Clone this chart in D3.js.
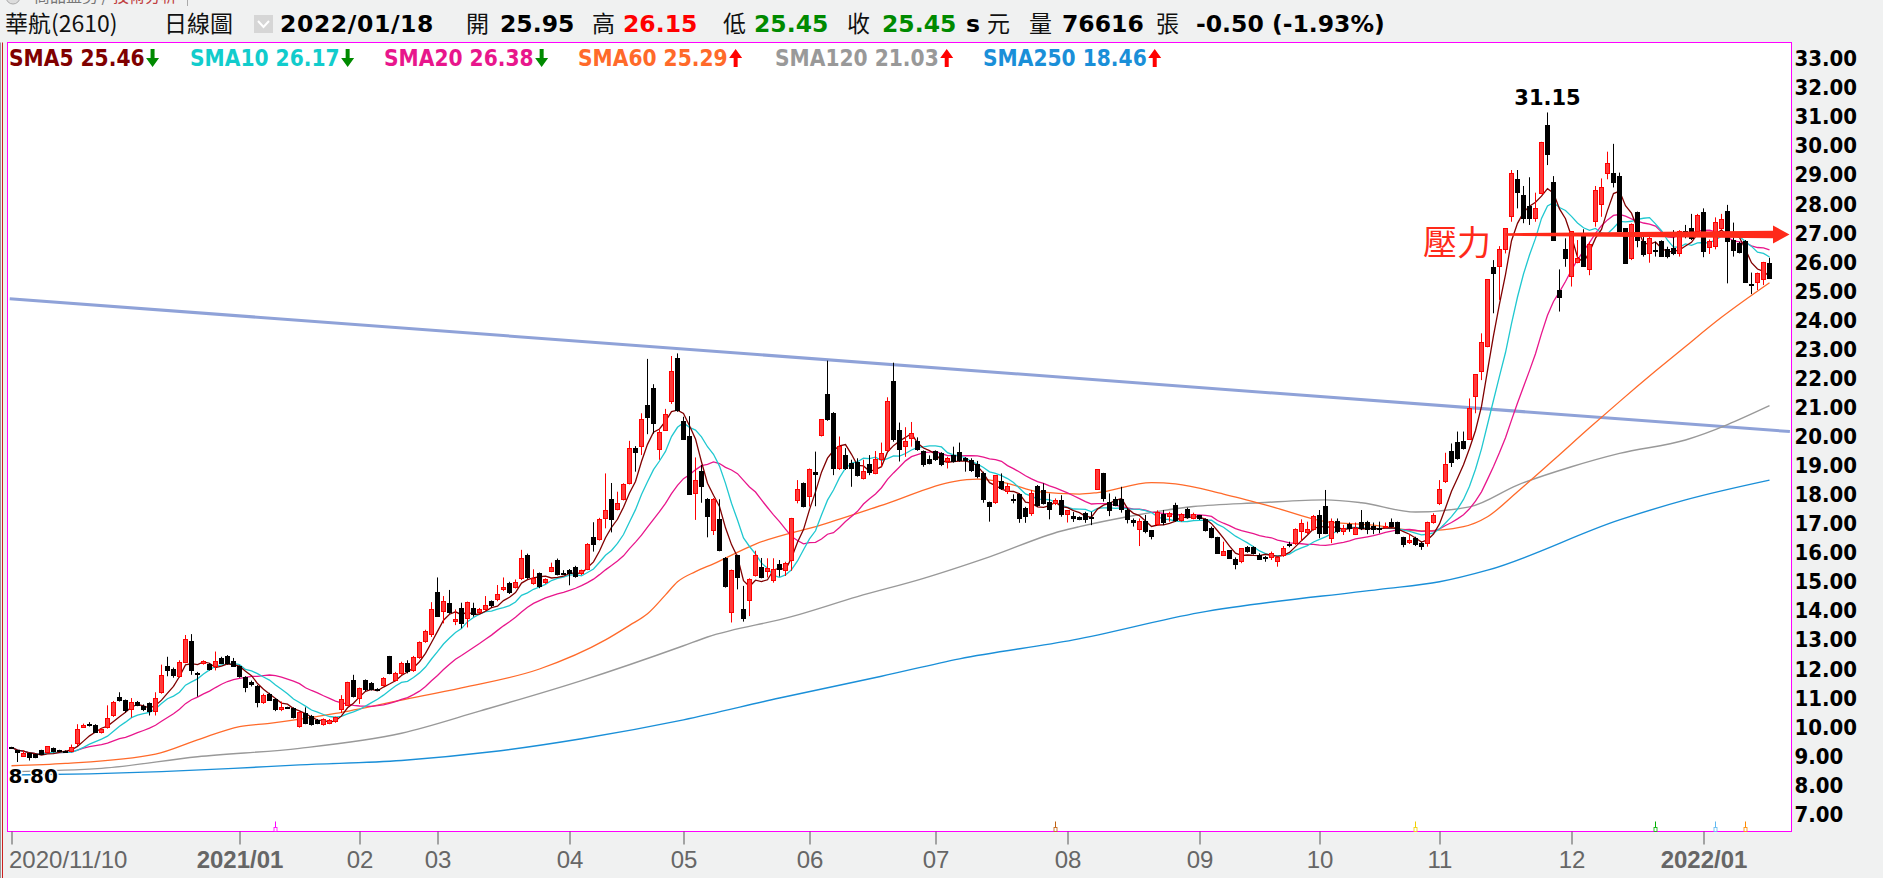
<!DOCTYPE html>
<html>
<head>
<meta charset="utf-8">
<script src="https://cdn.jsdelivr.net/npm/d3@7"></script>
<style>
  html, body { margin: 0; padding: 0; background: #f0f1f1; overflow: hidden; }
  svg { display: block; }
  .num { font-family: 'DejaVu Sans', Verdana, sans-serif; font-weight: bold; }
  .cond { font-family: 'DejaVu Sans Condensed', 'DejaVu Sans', sans-serif; font-stretch: condensed; font-weight: bold; }
  .cjk { font-family: 'Noto Sans CJK TC', 'Noto Sans CJK SC', sans-serif; }
</style>
</head>
<body>
<div id="app"></div>
<script>
// ---- data ----
const opens = [
  9.31, 9.19, 9.00, 9.10, 9.05, 9.20, 9.12, 9.27, 9.18, 9.17,
  9.15, 9.44, 10.00, 10.10, 10.05, 9.80, 10.00, 10.40, 11.02, 10.90,
  10.60, 10.84, 10.72, 10.80, 10.53, 11.20, 12.08, 11.97, 11.75, 12.22,
  12.96, 11.86, 12.20, 12.15, 12.08, 12.35, 12.42, 12.25, 12.10, 11.70,
  11.55, 11.41, 10.84, 11.12, 10.95, 10.60, 10.67, 10.64, 10.02, 10.47,
  10.38, 10.24, 10.10, 10.13, 10.18, 10.59, 10.76, 11.62, 11.00, 11.59,
  11.50, 11.30, 11.42, 12.42, 11.62, 11.85, 12.20, 11.95, 12.40, 12.95,
  13.17, 14.64, 13.97, 14.26, 13.63, 14.09, 13.75, 14.09, 13.94, 14.05,
  14.32, 14.38, 14.72, 14.95, 14.81, 15.12, 15.92, 14.95, 15.27, 14.97,
  15.37, 15.75, 15.30, 15.40, 15.50, 15.27, 15.43, 16.53, 16.46, 17.18,
  17.84, 17.50, 17.84, 18.39, 19.57, 19.67, 21.05, 21.66, 19.56, 20.22,
  21.20, 22.67, 20.53, 19.99, 18.04, 18.81, 17.84, 16.78, 17.15, 15.81,
  13.94, 15.89, 14.05, 14.37, 15.23, 15.50, 15.35, 15.06, 15.59, 15.38,
  15.75, 17.81, 18.39, 17.93, 18.75, 20.05, 21.46, 20.80, 18.90, 19.36,
  19.07, 19.10, 18.56, 19.05, 18.73, 19.20, 19.51, 21.90, 20.22, 19.65,
  19.94, 19.82, 19.48, 19.20, 19.48, 19.42, 19.14, 19.33, 19.44, 19.25,
  19.17, 19.05, 18.71, 17.72, 17.72, 18.45, 18.10, 17.84, 17.99, 17.53,
  17.36, 18.27, 18.14, 17.72, 17.70, 17.80, 17.30, 17.25, 17.20, 17.35,
  17.20, 18.18, 18.73, 17.72, 17.84, 17.84, 17.47, 17.10, 16.81, 17.07,
  16.76, 16.96, 17.30, 17.24, 17.64, 17.12, 17.50, 17.19, 17.27, 17.13,
  16.84, 16.53, 15.92, 16.07, 15.77, 15.69, 16.18, 16.18, 15.92, 15.83,
  15.84, 15.69, 15.92, 16.27, 16.32, 16.72, 16.69, 16.81, 17.27, 17.60,
  16.50, 17.07, 16.72, 16.96, 16.64, 17.03, 17.03, 16.90, 16.84, 16.87,
  17.03, 17.03, 16.53, 16.35, 16.50, 16.33, 16.33, 17.03, 17.68, 18.45,
  19.50, 19.79, 19.82, 19.90, 21.37, 22.23, 23.09, 25.82, 25.84, 26.44,
  27.57, 28.83, 28.28, 27.93, 27.51, 28.37, 30.69, 28.73, 25.04, 26.44,
  25.50, 25.98, 26.88, 25.73, 27.39, 27.97, 29.06, 29.06, 28.96, 27.16,
  26.13, 27.70, 26.70, 26.30, 26.40, 26.70, 26.44, 26.47, 26.28, 27.05,
  27.16, 27.05, 27.70, 26.51, 26.53, 27.16, 27.74, 26.76, 26.65, 26.70,
  25.23, 25.29, 25.41, 25.95
];
const highs = [
  9.32, 9.20, 9.20, 9.12, 9.08, 9.22, 9.35, 9.30, 9.22, 9.20,
  9.40, 10.10, 10.12, 10.17, 10.10, 9.97, 10.75, 10.90, 11.20, 10.95,
  11.00, 10.90, 10.78, 10.85, 11.20, 12.15, 12.42, 12.05, 12.30, 13.17,
  13.20, 11.90, 12.30, 12.20, 12.60, 12.42, 12.48, 12.38, 12.12, 11.75,
  11.60, 11.45, 11.15, 11.18, 11.00, 10.88, 10.70, 10.68, 10.55, 10.68,
  10.42, 10.28, 10.30, 10.28, 10.36, 11.10, 11.56, 11.80, 11.36, 11.64,
  11.55, 11.34, 11.72, 12.45, 11.90, 12.25, 12.30, 12.45, 12.95, 13.35,
  14.30, 15.15, 14.51, 14.72, 14.05, 14.28, 14.32, 14.28, 14.10, 14.51,
  14.36, 14.89, 15.15, 15.00, 15.08, 16.10, 15.97, 15.43, 15.32, 15.12,
  15.66, 15.80, 15.40, 15.44, 15.55, 15.42, 16.33, 17.05, 17.20, 18.73,
  18.40, 18.10, 18.39, 19.85, 19.67, 20.80, 22.67, 21.80, 20.25, 20.95,
  22.77, 22.86, 20.68, 20.70, 19.28, 19.02, 17.88, 17.88, 17.84, 15.85,
  15.42, 15.93, 14.86, 15.12, 16.07, 15.82, 15.81, 15.81, 15.75, 15.69,
  17.20, 18.50, 18.42, 18.90, 19.48, 20.60, 22.61, 20.84, 20.00, 19.60,
  19.20, 19.25, 19.20, 19.36, 19.50, 19.79, 21.35, 22.54, 20.48, 20.32,
  20.50, 19.97, 19.52, 19.35, 19.52, 19.46, 19.30, 19.65, 19.79, 19.29,
  19.25, 19.16, 18.79, 17.76, 18.67, 18.73, 18.39, 18.01, 18.03, 17.58,
  18.16, 18.33, 18.39, 18.04, 17.87, 17.98, 17.47, 17.40, 17.25, 17.41,
  17.41, 18.85, 18.75, 18.04, 17.93, 18.27, 17.53, 17.18, 17.18, 17.30,
  16.78, 17.46, 17.47, 17.41, 17.72, 17.36, 17.55, 17.38, 17.30, 17.18,
  16.90, 16.55, 16.38, 16.09, 15.84, 16.15, 16.23, 16.22, 15.98, 15.89,
  16.04, 15.87, 16.23, 16.38, 16.84, 17.15, 17.07, 17.30, 17.47, 18.16,
  17.18, 17.18, 16.96, 17.04, 17.04, 17.47, 17.10, 17.04, 17.07, 17.04,
  17.18, 17.07, 16.55, 16.64, 16.55, 16.38, 17.07, 17.36, 18.50, 19.44,
  19.76, 20.17, 20.17, 21.31, 22.12, 23.55, 25.41, 26.07, 26.55, 27.16,
  29.17, 29.17, 28.62, 28.92, 28.39, 30.14, 31.15, 28.96, 25.75, 26.82,
  27.05, 26.76, 27.13, 26.70, 28.62, 28.88, 29.80, 30.07, 29.08, 27.16,
  27.33, 27.74, 26.88, 26.94, 26.70, 26.75, 26.53, 27.10, 27.10, 27.28,
  27.66, 27.66, 27.85, 26.78, 27.54, 27.66, 27.97, 27.36, 26.70, 26.76,
  25.64, 25.64, 26.01, 26.15
];
const lows = [
  9.28, 8.80, 8.98, 8.85, 8.93, 9.05, 9.10, 9.13, 9.14, 9.12,
  9.13, 9.35, 9.97, 10.02, 9.80, 9.78, 9.95, 10.35, 10.88, 10.50,
  10.33, 10.72, 10.55, 10.40, 10.40, 11.15, 11.75, 11.70, 11.70, 12.20,
  11.80, 11.05, 12.15, 11.95, 11.95, 12.18, 12.15, 12.08, 11.70, 11.20,
  11.40, 10.68, 10.80, 10.90, 10.55, 10.55, 10.63, 10.30, 9.98, 10.10,
  10.05, 10.10, 10.05, 10.10, 10.15, 10.48, 10.72, 11.02, 10.80, 11.24,
  11.26, 11.26, 11.40, 11.82, 11.58, 11.80, 11.85, 11.90, 12.35, 12.90,
  13.10, 13.80, 13.57, 13.90, 13.51, 13.40, 13.43, 13.80, 13.90, 14.00,
  14.12, 14.33, 14.68, 14.58, 14.77, 15.06, 15.10, 14.90, 14.78, 14.93,
  15.33, 15.22, 15.26, 14.88, 15.14, 15.23, 15.40, 16.04, 16.42, 16.84,
  16.70, 17.46, 17.80, 18.35, 18.79, 19.36, 20.08, 20.10, 19.20, 20.20,
  21.12, 20.85, 19.88, 17.99, 17.13, 17.72, 16.53, 16.61, 16.05, 14.80,
  13.60, 14.74, 13.63, 13.82, 15.18, 15.12, 15.15, 14.97, 15.18, 15.20,
  15.38, 17.70, 17.56, 17.59, 17.60, 20.00, 20.54, 18.67, 18.85, 18.85,
  18.27, 18.62, 18.52, 18.67, 18.70, 18.96, 19.48, 19.82, 19.14, 19.30,
  19.65, 19.51, 18.96, 19.04, 19.16, 18.98, 18.90, 19.10, 19.13, 18.79,
  18.78, 18.56, 17.72, 17.07, 17.68, 18.16, 18.02, 17.70, 17.03, 17.03,
  17.27, 17.58, 17.66, 17.15, 17.64, 17.24, 17.04, 17.06, 17.12, 17.03,
  16.95, 18.16, 17.76, 17.26, 17.60, 17.38, 17.01, 16.90, 16.23, 16.67,
  16.46, 16.92, 16.95, 17.07, 17.07, 17.07, 17.17, 17.15, 17.13, 16.73,
  16.50, 15.96, 15.89, 15.81, 15.43, 15.64, 16.00, 15.94, 15.75, 15.69,
  15.75, 15.52, 15.86, 16.19, 16.27, 16.41, 16.64, 16.76, 16.50, 16.64,
  16.33, 16.67, 16.61, 16.72, 16.61, 16.78, 16.64, 16.64, 16.67, 16.84,
  16.90, 16.64, 16.19, 16.30, 16.23, 16.10, 16.21, 17.00, 17.64, 18.40,
  18.95, 19.20, 19.55, 19.88, 20.80, 21.94, 23.07, 24.24, 24.70, 26.30,
  27.39, 27.85, 27.34, 27.28, 27.39, 28.34, 29.34, 26.74, 24.30, 25.84,
  25.16, 25.96, 25.84, 25.55, 27.22, 27.56, 28.85, 28.57, 27.05, 25.96,
  26.07, 26.51, 26.19, 25.98, 26.19, 26.19, 26.13, 26.24, 26.19, 26.82,
  26.76, 26.93, 26.17, 26.28, 26.44, 27.10, 25.27, 26.19, 26.30, 25.29,
  24.90, 25.04, 25.21, 25.45
];
const closes = [
  9.30, 9.12, 9.10, 8.95, 8.95, 9.07, 9.33, 9.15, 9.17, 9.15,
  9.29, 9.93, 10.05, 10.08, 9.82, 9.93, 10.30, 10.85, 10.90, 10.56,
  10.85, 10.75, 10.60, 10.53, 11.00, 11.76, 11.95, 11.78, 12.22, 13.00,
  11.96, 11.80, 12.25, 11.98, 12.25, 12.20, 12.20, 12.10, 11.74, 11.37,
  11.45, 10.84, 11.10, 10.93, 10.59, 10.68, 10.65, 10.34, 10.52, 10.13,
  10.10, 10.13, 10.27, 10.24, 10.33, 10.96, 11.53, 11.05, 11.33, 11.28,
  11.30, 11.30, 11.68, 11.85, 11.85, 12.20, 11.90, 12.40, 12.90, 13.30,
  14.05, 13.82, 14.32, 13.94, 13.71, 13.55, 14.29, 13.86, 14.05, 14.18,
  14.17, 14.55, 14.81, 14.63, 14.98, 15.81, 15.15, 15.10, 14.83, 15.08,
  15.50, 15.26, 15.29, 15.30, 15.18, 15.38, 16.30, 16.27, 17.16, 17.47,
  17.16, 17.70, 18.35, 19.60, 19.44, 20.60, 20.66, 20.45, 20.14, 20.77,
  22.25, 20.91, 19.91, 18.02, 18.50, 18.27, 17.26, 17.84, 16.09, 14.83,
  15.38, 15.15, 13.74, 15.09, 15.92, 15.15, 15.45, 15.43, 15.41, 15.64,
  17.18, 18.16, 17.59, 18.85, 18.70, 20.57, 20.57, 18.90, 19.67, 18.90,
  18.90, 18.67, 18.79, 18.75, 19.20, 19.40, 21.20, 19.88, 19.54, 19.82,
  20.10, 19.54, 19.02, 19.08, 19.20, 19.02, 19.25, 19.14, 19.17, 19.17,
  18.82, 18.64, 17.84, 17.59, 18.67, 18.22, 18.27, 17.79, 17.18, 17.24,
  18.04, 17.64, 17.70, 17.49, 17.81, 17.30, 17.47, 17.18, 17.15, 17.15,
  17.18, 18.85, 17.87, 17.47, 17.64, 17.49, 17.15, 17.03, 17.07, 16.72,
  16.55, 17.40, 17.04, 17.35, 17.10, 17.30, 17.20, 17.30, 17.19, 16.78,
  16.53, 15.98, 16.03, 15.81, 15.58, 16.15, 16.04, 15.96, 15.77, 15.82,
  15.98, 15.84, 16.15, 16.27, 16.81, 17.01, 16.81, 17.24, 16.67, 16.67,
  17.07, 16.72, 16.84, 16.84, 16.84, 16.84, 16.81, 16.81, 16.84, 16.92,
  16.92, 16.67, 16.27, 16.41, 16.27, 16.23, 17.03, 17.27, 18.16, 19.02,
  19.10, 19.25, 19.60, 20.97, 22.12, 23.23, 25.41, 25.62, 26.44, 27.16,
  29.06, 28.39, 27.51, 27.51, 27.83, 30.11, 29.69, 26.74, 24.79, 26.13,
  27.05, 26.13, 25.84, 26.62, 28.48, 28.57, 29.40, 28.73, 27.05, 25.96,
  27.28, 26.76, 26.25, 26.82, 26.36, 26.19, 26.19, 26.30, 27.05, 27.05,
  26.82, 27.62, 26.36, 26.70, 27.36, 27.47, 26.70, 26.39, 26.33, 25.29,
  25.20, 25.61, 25.98, 25.45
];

// long averages read as sampled points: [candle index, value]
const sma60Pts = [[0, 8.67], [9, 8.75], [24, 9.07], [31, 9.56], [38, 10.02], [43, 10.13], [54, 10.47],
  [65, 10.93], [75, 11.35], [88, 12.0], [99, 13.0], [103, 13.5], [106, 13.9], [109, 14.55], [111, 15.0],
  [114, 15.35], [117, 15.62], [124, 16.3], [135, 16.96], [146, 17.7], [157, 18.45], [161, 18.53],
  [166, 18.39], [171, 18.1], [178, 18.02], [181, 18.07], [190, 18.41], [194, 18.37], [202, 18.02],
  [210, 17.59], [219, 17.07], [227, 16.95], [235, 16.75], [242, 16.9], [246, 17.24], [251, 18.1],
  [257, 19.19], [263, 20.3], [268, 21.2], [274, 22.25], [279, 23.1], [285, 24.1], [293, 25.29]];
const sma120Pts = [[0, 8.47], [15, 8.58], [31, 8.98], [48, 9.27], [65, 9.79], [78, 10.55], [95, 11.6],
  [112, 12.8], [116, 13.1], [130, 13.8], [141, 14.49], [152, 15.12], [163, 15.86], [175, 16.75],
  [178, 16.9], [186, 17.24], [197, 17.59], [208, 17.72], [219, 17.82], [225, 17.72], [234, 17.4],
  [243, 17.58], [251, 18.33], [260, 18.96], [268, 19.42], [279, 19.88], [293, 21.06]];
const sma250Pts = [[0, 8.35], [13, 8.39], [25, 8.47], [37, 8.58], [48, 8.7], [65, 8.85], [80, 9.15],
  [95, 9.6], [112, 10.25], [128, 11.0], [145, 11.75], [158, 12.35], [177, 13.0], [198, 13.94],
  [228, 14.74], [238, 15.0], [246, 15.4], [268, 17.13], [279, 17.82], [293, 18.5]];

const trendPts = [[-0.3, 24.74], [296.4, 20.17]];
const resistance = { from: 249, value: 26.95, label: '壓力' };

const monthIdx = [0, 38, 58, 71, 93, 112, 133, 154, 176, 198, 218, 238, 260, 282];
const monthLabels = ['2020/11/10', '2021/01', '02', '03', '04', '05', '06', '07', '08', '09', '10', '11', '12', '2022/01'];
const yTicks = d3.range(7, 34);

const legendNames = ['SMA5', 'SMA10', 'SMA20', 'SMA60', 'SMA120', 'SMA250'];
const legendValues = ['25.46', '26.17', '26.38', '25.29', '21.03', '18.46'];
const legendUp = [false, false, false, true, true, true];
const legendColors = ['#800000', '#12cccc', '#e8168c', '#ff6a2a', '#999999', '#1a8fd8'];

const markerIdx = [44, 174, 234, 274, 284, 289];
const markerColors = ['#ff00ff', '#c06010', '#f0d000', '#00b000', '#60b8f0', '#ff8a00'];

const lowLabel = { idx: 1, value: '8.80' };
const highLabel = { idx: 256, value: '31.15' };

// ---- layout ----
const svg = d3.select('#app').append('svg')
    .attr('width', 1883)
    .attr('height', 878);

const frame = { left: 7.5, right: 1791.5, top: 42.5, bottom: 831.5 };

const x = d3.scaleLinear().domain([0, 293]).range([11.5, 1769.5]);
const y = d3.scaleLinear().domain([7, 33]).range([814.3, 58.7]);

// header strip remnant (tabs cut off at the top, as in the app window)
svg.append('circle').attr('cx', 13).attr('cy', -3).attr('r', 7)
    .attr('fill', '#ddd').attr('stroke', '#aaa');
svg.append('text').attr('class', 'cjk').attr('x', 34).attr('y', 2)
    .attr('font-size', 16).attr('fill', '#777').text('商品盤勢 / ');
svg.append('text').attr('class', 'cjk').attr('x', 113).attr('y', 2)
    .attr('font-size', 16).attr('fill', '#c04040').text('技術分析');
svg.append('line').attr('x1', 187.5).attr('x2', 187.5).attr('y1', 0).attr('y2', 6)
    .attr('stroke', '#aaa');

// header line
const hdr = svg.append('g');
const hy = 32;
function hText(xp, txt, cls, color, size) {
  return hdr.append('text').attr('class', cls).attr('x', xp).attr('y', hy)
      .attr('font-size', size).attr('fill', color).text(txt);
}
hText(5, '華航(2610)', 'cjk', '#111', 23);
hText(164, '日線圖', 'cjk', '#111', 23);
hdr.append('rect').attr('x', 254).attr('y', 15).attr('width', 19).attr('height', 18).attr('fill', '#d6d6d6');
hdr.append('path').attr('d', 'M258,21 L263.5,27 L269,21').attr('fill', 'none').attr('stroke', '#fff').attr('stroke-width', 2);
hText(280, '2022/01/18', 'num', '#000', 23.5).attr('letter-spacing', 0.6);
hText(466, '開', 'cjk', '#111', 23);
hText(500, '25.95', 'num', '#000', 23.5);
hText(592, '高', 'cjk', '#111', 23);
hText(623, '26.15', 'num', '#ff0000', 23.5);
hText(723, '低', 'cjk', '#111', 23);
hText(754, '25.45', 'num', '#008a00', 23.5);
hText(847, '收', 'cjk', '#111', 23);
hText(882, '25.45', 'num', '#008a00', 23.5);
hText(966, 's', 'num', '#000', 23.5);
hText(987, '元', 'cjk', '#111', 23);
hText(1029, '量', 'cjk', '#111', 23);
hText(1062, '76616', 'num', '#000', 23.5);
hText(1156, '張', 'cjk', '#111', 23);
hText(1196, '-0.50 (-1.93%)', 'num', '#000', 23.5);

// plot frame
svg.append('rect')
    .attr('x', frame.left).attr('y', frame.top)
    .attr('width', frame.right - frame.left).attr('height', frame.bottom - frame.top)
    .attr('fill', '#fff').attr('stroke', '#ff00ff').attr('stroke-width', 1);

// window edge lines on the left
svg.append('line').attr('x1', 0.5).attr('x2', 0.5).attr('y1', frame.top).attr('y2', 878).attr('stroke', '#999');
svg.append('line').attr('x1', 2.5).attr('x2', 2.5).attr('y1', frame.top).attr('y2', 878).attr('stroke', '#cc2020');

svg.append('clipPath').attr('id', 'plotclip')
  .append('rect')
    .attr('x', frame.left + 0.5).attr('y', frame.top + 0.5)
    .attr('width', frame.right - frame.left - 1).attr('height', frame.bottom - frame.top - 1);

const g = svg.append('g').attr('clip-path', 'url(#plotclip)');

// trend line
g.append('path')
    .datum(trendPts)
    .attr('d', d3.line().x(d => x(d[0])).y(d => y(d[1])))
    .attr('fill', 'none')
    .attr('stroke', '#8fa2d8')
    .attr('stroke-width', 3);

// moving averages
function sma(n) {
  return closes.map((c, i) => d3.mean(closes.slice(Math.max(0, i - n + 1), i + 1)));
}
const lineIdx = d3.line().x((d, i) => x(i)).y(d => y(d));
const linePts = d3.line().curve(d3.curveMonotoneX).x(d => x(d[0])).y(d => y(d[1]));

g.append('path').datum(sma250Pts).attr('d', linePts)
    .attr('fill', 'none').attr('stroke', legendColors[5]).attr('stroke-width', 1.4);
g.append('path').datum(sma120Pts).attr('d', linePts)
    .attr('fill', 'none').attr('stroke', legendColors[4]).attr('stroke-width', 1.4);
g.append('path').datum(sma60Pts).attr('d', linePts)
    .attr('fill', 'none').attr('stroke', legendColors[3]).attr('stroke-width', 1.3);
g.append('path').datum(sma(20)).attr('d', lineIdx)
    .attr('fill', 'none').attr('stroke', legendColors[2]).attr('stroke-width', 1.3);
g.append('path').datum(sma(10)).attr('d', lineIdx)
    .attr('fill', 'none').attr('stroke', '#20c8d0').attr('stroke-width', 1.3);
g.append('path').datum(sma(5)).attr('d', lineIdx)
    .attr('fill', 'none').attr('stroke', legendColors[0]).attr('stroke-width', 1.3);

// candles
const candles = closes.map((c, i) => ({ i, o: opens[i], h: highs[i], l: lows[i], c }));
const cg = g.append('g').selectAll('g')
  .data(candles)
  .enter().append('g');

cg.append('line')
    .attr('x1', d => x(d.i)).attr('x2', d => x(d.i))
    .attr('y1', d => y(d.h)).attr('y2', d => y(d.l))
    .attr('stroke', d => d.c > d.o ? '#ff0000' : '#000')
    .attr('stroke-width', 1);

cg.append('rect')
    .attr('x', d => x(d.i) - 2)
    .attr('width', 4)
    .attr('y', d => y(Math.max(d.o, d.c)))
    .attr('height', d => Math.max(1, Math.abs(y(d.o) - y(d.c))))
    .attr('fill', d => d.c > d.o ? '#ff3a3a' : '#000')
    .attr('stroke', d => d.c > d.o ? '#ff0000' : '#000')
    .attr('stroke-width', 1)
    .attr('shape-rendering', 'crispEdges');

// resistance arrow
const ry = y(resistance.value);
const rx0 = x(resistance.from), rxh = 1773, rxt = 1789.5;
g.append('path')
    .attr('d', `M${rx0},${ry - 1.3} L${rxh},${ry - 3.7} L${rxh},${ry - 9} L${rxt},${ry} L${rxh},${ry + 9} L${rxh},${ry + 3.7} L${rx0},${ry + 1.3} Z`)
    .attr('fill', '#ff2a1a');
svg.append('text').attr('class', 'cjk')
    .attr('x', 1423).attr('y', ry + 20)
    .attr('font-size', 34).attr('fill', '#ff2a1a')
    .attr('stroke', '#fff').attr('stroke-width', 0.6).attr('paint-order', 'stroke')
    .text(resistance.label);

// high / low labels
svg.append('text').attr('class', 'num')
    .attr('x', x(highLabel.idx)).attr('y', y(highs[highLabel.idx]) - 7)
    .attr('text-anchor', 'middle').attr('font-size', 21)
    .attr('stroke', '#fff').attr('stroke-width', 3).attr('paint-order', 'stroke')
    .text(highLabel.value);
svg.append('text').attr('class', 'num')
    .attr('x', frame.left + 1).attr('y', y(lows[lowLabel.idx]) + 21)
    .attr('font-size', 20)
    .attr('stroke', '#fff').attr('stroke-width', 3).attr('paint-order', 'stroke')
    .text(lowLabel.value);

// event markers at the bottom
const mk = svg.append('g').selectAll('g').data(markerIdx).enter().append('g');
mk.append('line')
    .attr('x1', d => x(d)).attr('x2', d => x(d))
    .attr('y1', frame.bottom - 10).attr('y2', frame.bottom)
    .attr('stroke', (d, i) => markerColors[i]);
mk.append('rect')
    .attr('x', d => x(d) - 1.5).attr('y', frame.bottom - 4)
    .attr('width', 3).attr('height', 4)
    .attr('fill', '#fff').attr('stroke', (d, i) => markerColors[i]).attr('stroke-width', 0.8);

// legend
const lg = svg.append('g');
const legendX = [9, 190, 384, 578, 775, 983];
legendNames.forEach((name, k) => {
  const t = lg.append('text').attr('class', 'cond')
      .attr('x', legendX[k]).attr('y', 66)
      .attr('font-size', 22.5).attr('fill', legendColors[k])
      .text(`${name} ${legendValues[k]}`);
  const w = t.node().getComputedTextLength();
  const ax = legendX[k] + w + 8;
  const col = legendUp[k] ? '#ff0000' : '#008a00';
  const a = legendUp[k]
    ? `M${ax},49 L${ax + 6.5},58 L${ax + 2},58 L${ax + 2},67 L${ax - 2},67 L${ax - 2},58 L${ax - 6.5},58 Z`
    : `M${ax},67 L${ax + 6.5},58 L${ax + 2},58 L${ax + 2},49 L${ax - 2},49 L${ax - 2},58 L${ax - 6.5},58 Z`;
  lg.append('path').attr('d', a).attr('fill', col);
});

// right price axis
const yAxis = svg.append('g')
    .attr('transform', `translate(${frame.right},0)`)
    .call(d3.axisRight(y).tickValues(yTicks).tickSize(0).tickPadding(3).tickFormat(d3.format('.2f')));
yAxis.select('.domain').remove();
yAxis.selectAll('text')
    .attr('class', 'cond')
    .attr('font-size', 22)
    .attr('fill', '#000');

// bottom date axis
const xAxis = svg.append('g')
    .attr('transform', `translate(0,${frame.bottom})`)
    .call(d3.axisBottom(x).tickValues(monthIdx).tickSize(13).tickPadding(6)
      .tickFormat((d, i) => monthLabels[i]));
xAxis.select('.domain').remove();
xAxis.selectAll('.tick line').attr('stroke', '#555');
xAxis.selectAll('text')
    .attr('font-family', "'Liberation Sans', Arial, sans-serif")
    .attr('font-size', 24)
    .attr('fill', '#666')
    .attr('font-weight', (d, i) => monthLabels[i].length > 2 && i > 0 ? 'bold' : 'normal')
    .attr('text-anchor', (d, i) => i === 0 ? 'start' : 'middle')
    .attr('dx', (d, i) => i === 0 ? -3 : 0);
</script>
</body>
</html>
